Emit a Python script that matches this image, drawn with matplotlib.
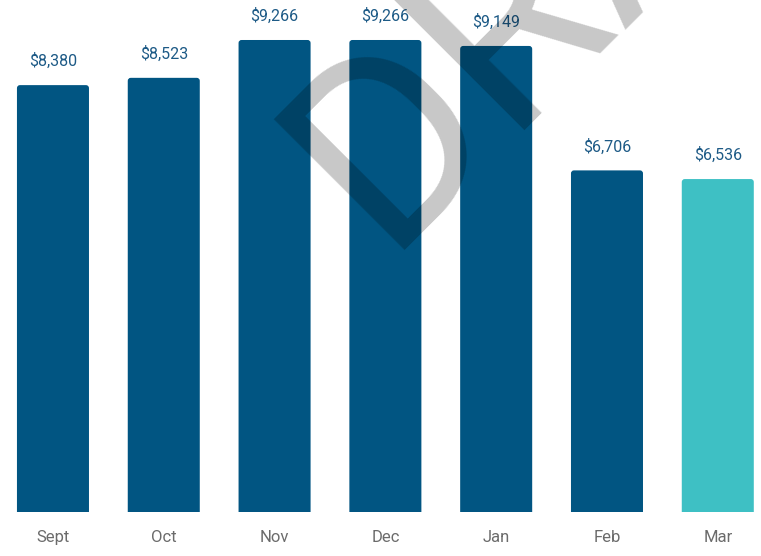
import matplotlib.pyplot as plt
import numpy as np
from matplotlib.patches import FancyBboxPatch

plt.rcParams['font.family'] = ['Roboto', 'DejaVu Sans']

# Data
months = ['Sept', 'Oct', 'Nov', 'Dec', 'Jan', 'Feb', 'Mar']
revenue = [8380, 8523, 9266, 9266, 9149, 6706, 6536]
bar_colors = ['#015582'] * 6 + ['#3ec0c4']

fig = plt.figure(figsize=(7.61, 5.56), dpi=100)
ax = fig.add_axes([0, 44 / 556, 1, 512 / 556])

x = np.arange(len(months))
bars = ax.bar(x, revenue, width=0.65, color=bar_colors, zorder=2)

ax.set_xlim(-0.478, 6.39)
ax.set_ylim(0, 10051)

# swap plain rectangles for ones with slightly rounded top corners
x_per_px = (6.39 + 0.478) / 761
y_per_px = 10051 / 512
for rect in bars:
    rect.set_visible(False)
    r = FancyBboxPatch((rect.get_x(), -6 * y_per_px), rect.get_width(),
                       rect.get_height() + 6 * y_per_px,
                       boxstyle=f'round,pad=0,rounding_size={3 * x_per_px}',
                       mutation_aspect=y_per_px / x_per_px,
                       facecolor=rect.get_facecolor(), edgecolor='none', zorder=2)
    ax.add_patch(r)

# Value labels above each bar
for rect, val in zip(bars, revenue):
    ax.annotate(f'${val:,}', xy=(rect.get_x() + rect.get_width() / 2, val),
                xytext=(0, 19 * 72 / 100), textcoords='offset points',
                ha='center', va='baseline', fontsize=11.5, color='#1d5a86', zorder=5)

ax.set_xticks(x)
ax.set_xticklabels(months, fontsize=12, color='#6b6b6b')
ax.tick_params(axis='x', length=0, pad=13)
ax.set_yticks([])
for s in ax.spines.values():
    s.set_visible(False)

# DRAFT watermark
fig.text(383 / 761, 1 - 250 / 556, 'DRAFT', rotation=45, rotation_mode='anchor',
         ha='left', va='baseline', fontsize=187, color='black', alpha=0.22, zorder=10)

fig.savefig('out.png', dpi=100)
